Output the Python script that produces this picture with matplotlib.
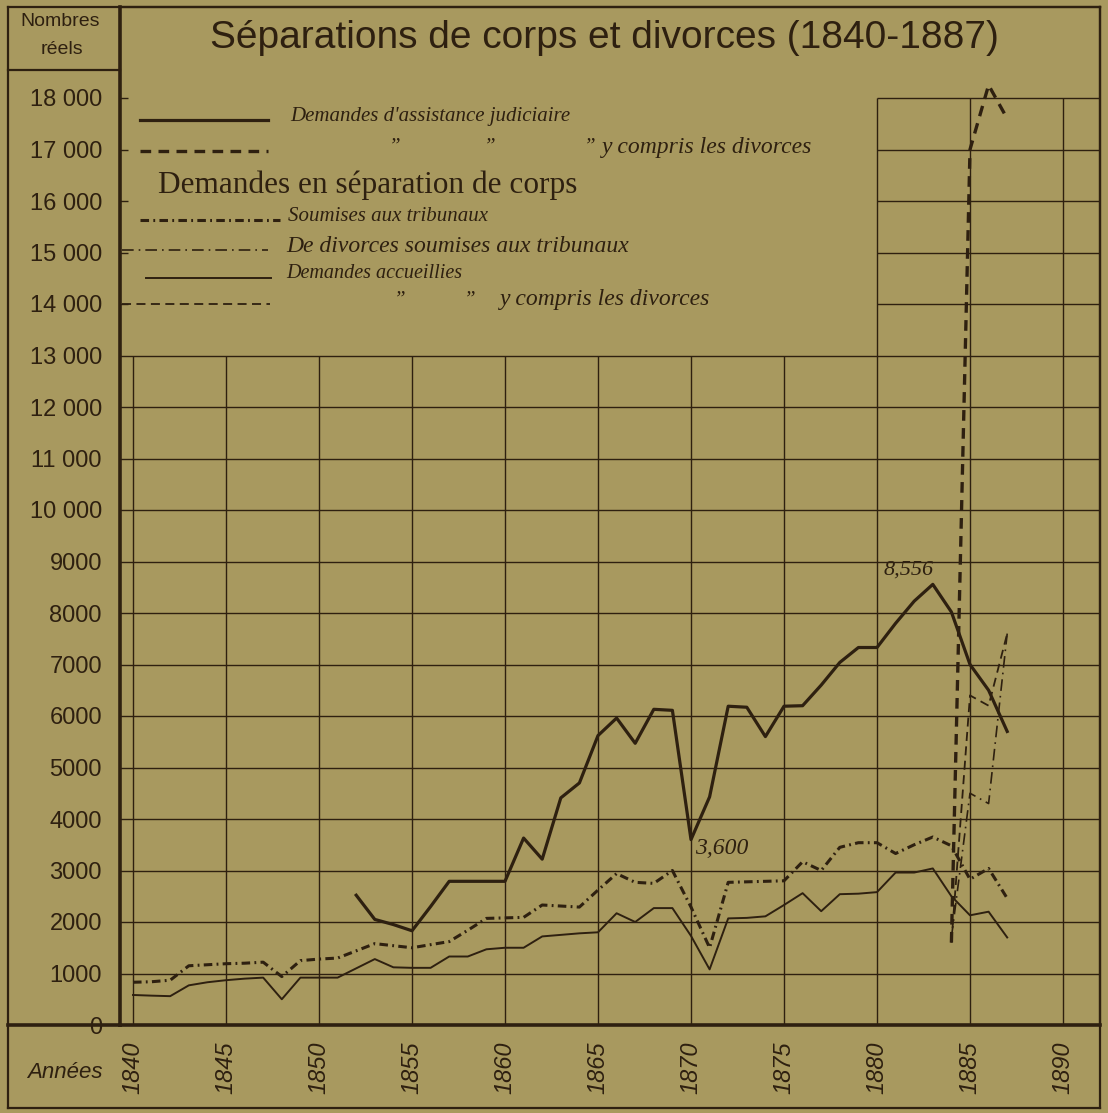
import matplotlib
matplotlib.use("Agg")
import matplotlib.pyplot as plt
from matplotlib.lines import Line2D

PAPER = "#a8995f"
INK = "#2e2010"

# ---- data ----
years_assist = list(range(1852, 1888))
assist = [2520, 2050, 1950, 1830, 2300, 2790, 2790, 2790, 2790, 3630,
          3220, 4410, 4700, 5620, 5960, 5470, 6130, 6110, 3600, 4430,
          6190, 6170, 5600, 6190, 6200, 6600, 7040, 7330, 7330, 7800,
          8230, 8556, 8020, 7000, 6500, 5700]

years_sep = list(range(1840, 1888))
sep_soumises = [830, 840, 870, 1150, 1170, 1190, 1200, 1220, 940, 1250,
                1280, 1300, 1440, 1580, 1540, 1500, 1560, 1620, 1840, 2070,
                2080, 2090, 2330, 2310, 2290, 2620, 2940, 2770, 2750, 3000,
                2290, 1500, 2770, 2780, 2790, 2800, 3170, 3000, 3450, 3540,
                3540, 3330, 3500, 3650, 3480, 2830, 3040, 2460]
sep_accueillies = [583, 570, 560, 770, 830, 870, 900, 920, 500, 920,
                   920, 920, 1100, 1280, 1120, 1110, 1110, 1330, 1330, 1470,
                   1500, 1500, 1720, 1750, 1780, 1800, 2170, 2000, 2270, 2270,
                   1730, 1080, 2070, 2080, 2110, 2330, 2560, 2210, 2540, 2550,
                   2580, 2960, 2960, 3040, 2500, 2130, 2200, 1700]

years_div = [1884, 1885, 1886, 1887]
assist_div = [1600, 17000, 18250, 17600]
div_soumises = [1700, 4500, 4300, 7600]
accueillies_div = [1600, 6400, 6200, 7600]

y_ticks = list(range(0, 18001, 1000))
y_labels = [("%d %03d" % (v // 1000, v % 1000)) if v >= 10000 else str(v) for v in y_ticks]
x_ticks = list(range(1840, 1891, 5))

# ---- figure ----
W, H = 1108, 1113
fig = plt.figure(figsize=(W / 100, H / 100), dpi=100, facecolor=PAPER)


def fx(px):
    return px / W


def fy(py):
    return 1 - py / H


SANS = ["Liberation Sans", "DejaVu Sans"]
SERIF = ["Liberation Serif", "DejaVu Serif"]

# outer frame
frame = fig.add_axes([fx(8), fy(1108), fx(1100) - fx(8), fy(7) - fy(1108)])
frame.set_facecolor("none")
frame.set_xticks([])
frame.set_yticks([])
for s in frame.spines.values():
    s.set_color(INK)
    s.set_linewidth(1.6)

ax = fig.add_axes([fx(120), fy(1025), fx(1100) - fx(120), fy(7) - fy(1025)])
ax.set_facecolor("none")
px_per_year = 18.6
x0 = 1840 - (133 - 120) / px_per_year
x1 = 1840 + (1100 - 133) / px_per_year
ax.set_xlim(x0, x1)
ax.set_ylim(0, (1025 - 7) / 0.0515)

gkw = dict(color=INK, lw=1.0, zorder=1)
ax.vlines(x_ticks, 0, 13000, **gkw)
ax.hlines(range(1000, 13001, 1000), x0, x1, **gkw)
ax.vlines([1880, 1885, 1890], 13000, 18000, **gkw)
ax.hlines(range(14000, 18001, 1000), 1880, x1, **gkw)
ax.hlines(range(14000, 18001, 1000), x0, x0 + 0.45, **gkw)

for name, s in ax.spines.items():
    s.set_color(INK)
    s.set_linewidth(2.6 if name in ("left", "bottom") else 1.6)

ax.set_yticks(y_ticks)
ax.set_yticklabels(y_labels, family=SANS, fontsize=17, color=INK)
ax.tick_params(axis="y", length=0, pad=13)
ax.set_xticks(x_ticks)
ax.set_xticklabels([str(v) for v in x_ticks], rotation=90, family=SANS,
                   style="italic", fontsize=17, color=INK)
ax.tick_params(axis="x", length=0, pad=12)

# series
ax.plot(years_assist, assist, color=INK, lw=2.3, zorder=3)
ax.plot(years_div, assist_div, color=INK, lw=2.4, ls=(0, (3.2, 2.2)), zorder=3)
ax.plot(years_sep, sep_soumises, color=INK, lw=2.2, ls=(0, (2.8, 1.4, 0.6, 1.4)), zorder=3)
ax.plot(years_div, div_soumises, color=INK, lw=1.2, ls=(0, (7, 3, 1, 3)), zorder=3)
ax.plot(years_sep, sep_accueillies, color=INK, lw=1.4, zorder=3)
ax.plot(years_div, accueillies_div, color=INK, lw=1.3, ls=(0, (5, 3)), zorder=3)

ax.annotate("8,556", xy=(1883, 8556), xytext=(-24, 14), textcoords="offset pixels",
            ha="center", va="center", fontsize=16, style="italic", family=SERIF, color=INK)
ax.annotate("3,600", xy=(1870, 3600), xytext=(4, -9), textcoords="offset pixels",
            ha="left", va="center", fontsize=17, style="italic", family=SERIF, color=INK)

# texts of the frame
fig.text(fx(60), fy(22), "Nombres", ha="center", va="center", family=SANS, fontsize=14, color=INK)
fig.text(fx(62), fy(50), "réels", ha="center", va="center", family=SANS, fontsize=14, color=INK)
fig.add_artist(Line2D([fx(8), fx(120)], [fy(70), fy(70)], transform=fig.transFigure, color=INK, lw=1.6))
fig.add_artist(Line2D([fx(8), fx(120)], [fy(1025), fy(1025)], transform=fig.transFigure, color=INK, lw=2.6))
fig.text(fx(65), fy(1072), "Années", ha="center", va="center", family=SANS, style="italic",
         fontsize=16, color=INK)
fig.text(fx(604), fy(38), "Séparations de corps et divorces (1840-1887)", ha="center", va="center",
         family=SANS, fontsize=28, color=INK)

# legend
def legend_row(y, xa, xb, lw, ls, label, tx, size):
    fig.add_artist(Line2D([fx(xa), fx(xb)], [fy(y), fy(y)], transform=fig.transFigure,
                          color=INK, lw=lw, ls=ls))
    fig.text(fx(tx), fy(y - 4), label, ha="left", va="center", family=SERIF,
             style="italic", fontsize=size, color=INK)


def ditto(y, xs):
    for x in xs:
        fig.text(fx(x), fy(y - 4), "\u201d", ha="center", va="center", family=SERIF,
                 style="italic", fontsize=15, color=INK)


legend_row(120, 140, 268, 2.3, "-", "Demandes d'assistance judiciaire", 290, 15)
legend_row(151, 140, 268, 2.4, (0, (3.2, 2.2)), "y compris les divorces", 602, 17)
ditto(151, [395, 490, 590])
fig.text(fx(158), fy(185), "Demandes en séparation de corps", ha="left", va="center",
         family=SERIF, fontsize=22.5, color=INK)
legend_row(220, 140, 280, 2.2, (0, (2.8, 1.4, 0.6, 1.4)), "Soumises aux tribunaux", 288, 15)
legend_row(250, 122, 268, 1.2, (0, (7, 3, 1, 3)), "De divorces soumises aux tribunaux", 286, 17)
legend_row(278, 146, 271, 1.4, "-", "Demandes accueillies", 286, 14.5)
legend_row(304, 122, 270, 1.3, (0, (5, 3)), "y compris les divorces", 500, 17)
ditto(304, [400, 470])

fig.savefig("out.png", dpi=100, facecolor=PAPER)
